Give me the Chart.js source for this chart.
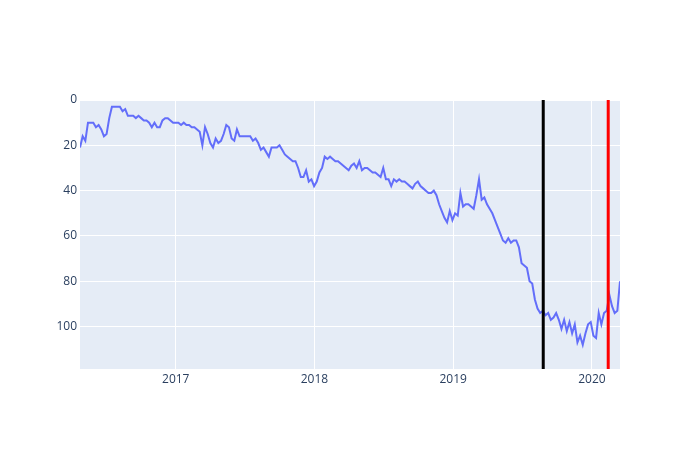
<!DOCTYPE html>
<html>
<head>
<meta charset="utf-8">
<script src="https://cdn.jsdelivr.net/npm/chart.js@4/dist/chart.umd.min.js"></script>
<style>
	body { margin: 0; background: #fff; }
	canvas { display: block; }
</style>
</head>
<body>
<canvas id="myChart" width="700" height="450"></canvas>
<script>
// weekly series, first week starts here
var startDate = '2016-04-24';
var rankValues = [
	21, 16, 18, 10, 10, 10, 12, 11, 13, 16,
	15, 8, 3, 3, 3, 3, 5, 4, 7, 7,
	7, 8, 7, 8, 9, 9, 10, 12, 10, 12,
	12, 9, 8, 8, 9, 10, 10, 10, 11, 10,
	11, 11, 12, 12, 13, 14, 20, 12, 15, 19,
	21, 17, 19, 18, 15, 11, 12, 17, 18, 13,
	16, 16, 16, 16, 16, 18, 17, 19, 22, 21,
	23, 25, 21, 21, 21, 20, 22, 24, 25, 26,
	27, 27, 30, 34, 34, 31, 36, 35, 38, 36,
	32, 30, 25, 26, 25, 26, 27, 27, 28, 29,
	30, 31, 29, 28, 30, 27, 31, 30, 30, 31,
	32, 32, 33, 34, 30, 35, 35, 38, 35, 36,
	35, 36, 36, 37, 38, 39, 37, 36, 38, 39,
	40, 41, 41, 40, 42, 46, 49, 52, 54, 49,
	53, 50, 51, 41, 47, 46, 46, 47, 48, 42,
	35, 44, 43, 46, 48, 50, 53, 56, 59, 62,
	63, 61, 63, 62, 62, 65, 72, 73, 74, 80,
	81, 88, 92, 94, 93, 95, 94, 97, 96, 94,
	97, 101, 97, 102, 98, 103, 99, 107, 104, 108,
	103, 99, 98, 104, 105, 94, 99, 94, 93, 86,
	91, 94, 93, 80
];
var yearTicks = [2017, 2018, 2019, 2020];
var yTicks = [0, 20, 40, 60, 80, 100];
var yMax = 118.7;
var markerDates = ['2019-08-26', '2020-02-13'];
var markerColors = ['#000000', '#ff0000'];

var DAY = 86400000;
var t0 = Date.parse(startDate);
var points = rankValues.map(function (v, i) {
	return { x: t0 + i * 7 * DAY, y: v };
});

var plotBg = {
	id: 'plotBg',
	beforeDraw: function (chart) {
		var a = chart.chartArea, c = chart.ctx;
		c.save();
		c.fillStyle = '#E5ECF6';
		c.fillRect(a.left, a.top, a.right - a.left, a.bottom - a.top);
		c.restore();
	}
};

var vLines = {
	id: 'vLines',
	afterDatasetsDraw: function (chart) {
		var a = chart.chartArea, c = chart.ctx, xs = chart.scales.x;
		c.save();
		c.lineWidth = 3;
		markerDates.forEach(function (d, i) {
			var px = xs.getPixelForValue(Date.parse(d));
			c.strokeStyle = markerColors[i];
			c.beginPath();
			c.moveTo(px, a.top);
			c.lineTo(px, a.bottom);
			c.stroke();
		});
		c.restore();
	}
};

Chart.defaults.font.family = '"Open Sans", verdana, arial, sans-serif';
Chart.defaults.font.size = 12;
Chart.defaults.color = '#2a3f5f';

var ctx = document.getElementById('myChart').getContext('2d');
var myChart = new Chart(ctx, {
	type: 'line',
	data: {
		datasets: [{
			data: points,
			borderColor: '#636EFA',
			borderWidth: 2,
			pointRadius: 0,
			tension: 0,
			fill: false
		}]
	},
	options: {
		responsive: false,
		animation: false,
		layout: { padding: { left: 0, right: 80, top: 100, bottom: 0 } },
		plugins: {
			legend: { display: false },
			tooltip: { enabled: false }
		},
		scales: {
			x: {
				type: 'linear',
				min: points[0].x,
				max: points[points.length - 1].x,
				afterBuildTicks: function (scale) {
					scale.ticks = yearTicks.map(function (y) { return { value: Date.UTC(y, 0, 1) }; });
				},
				afterFit: function (scale) { scale.height = 81; },
				ticks: {
					autoSkip: false,
					maxRotation: 0,
					padding: 3,
					callback: function (v) { return new Date(v).getUTCFullYear(); }
				},
				grid: { color: '#ffffff', lineWidth: 1, drawTicks: false },
				border: { display: false }
			},
			y: {
				reverse: true,
				min: 0,
				max: yMax,
				afterBuildTicks: function (scale) {
					scale.ticks = yTicks.map(function (v) { return { value: v }; });
				},
				afterFit: function (scale) { scale.width = 80; },
				ticks: { padding: 3 },
				grid: { color: '#ffffff', lineWidth: 1, drawTicks: false },
				border: { display: false }
			}
		}
	},
	plugins: [plotBg, vLines]
});
</script>
</body>
</html>
